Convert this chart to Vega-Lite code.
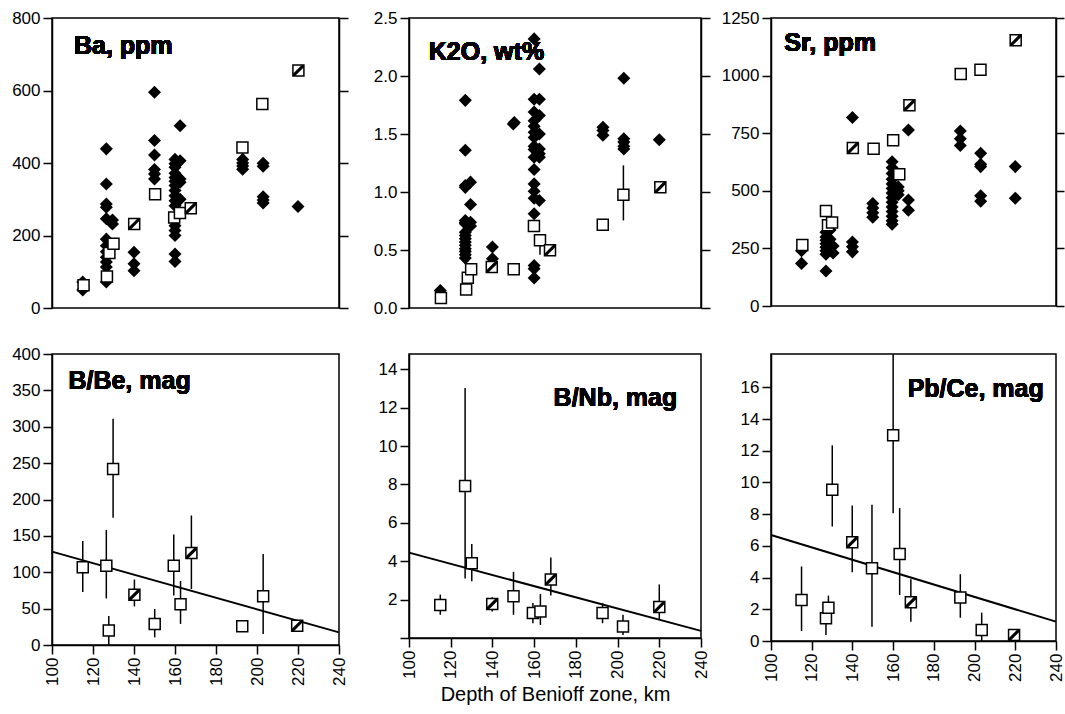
{
  "$schema": "https://vega.github.io/schema/vega-lite/v6.json",
  "padding": {"left": 10, "top": 8, "right": 0, "bottom": 4},
  "background": "white",
  "columns": 3,
  "spacing": {"row": 46, "column": 70},
  "bounds": "flush",
  "align": "each",
  "datasets": {
    "ba": [
      {"depth":115,"value":72,"kind":"d"},{"depth":115,"value":50,"kind":"d"},
      {"depth":126.5,"value":439,"kind":"d"},{"depth":126.5,"value":342,"kind":"d"},{"depth":126.5,"value":287,"kind":"d"},{"depth":126.5,"value":278,"kind":"d"},{"depth":126.5,"value":246,"kind":"d"},{"depth":126.5,"value":190,"kind":"d"},{"depth":126.5,"value":172,"kind":"d"},{"depth":126.5,"value":155,"kind":"d"},{"depth":126.5,"value":140,"kind":"d"},{"depth":126.5,"value":127,"kind":"d"},{"depth":126.5,"value":113,"kind":"d"},{"depth":126.5,"value":72,"kind":"d"},
      {"depth":129.5,"value":243,"kind":"d"},{"depth":129.5,"value":232,"kind":"d"},
      {"depth":140,"value":154,"kind":"d"},{"depth":140,"value":122,"kind":"d"},{"depth":140,"value":103,"kind":"d"},
      {"depth":150,"value":595,"kind":"d"},{"depth":150,"value":462,"kind":"d"},{"depth":150,"value":422,"kind":"d"},{"depth":150,"value":382,"kind":"d"},{"depth":150,"value":370,"kind":"d"},{"depth":150,"value":356,"kind":"d"},
      {"depth":160,"value":410,"kind":"d"},{"depth":160,"value":398,"kind":"d"},{"depth":160,"value":388,"kind":"d"},{"depth":160,"value":372,"kind":"d"},{"depth":160,"value":360,"kind":"d"},{"depth":160,"value":350,"kind":"d"},{"depth":160,"value":338,"kind":"d"},{"depth":160,"value":324,"kind":"d"},{"depth":160,"value":310,"kind":"d"},{"depth":160,"value":296,"kind":"d"},{"depth":160,"value":282,"kind":"d"},{"depth":160,"value":227,"kind":"d"},{"depth":160,"value":214,"kind":"d"},{"depth":160,"value":200,"kind":"d"},{"depth":160,"value":149,"kind":"d"},{"depth":160,"value":128,"kind":"d"},
      {"depth":162.5,"value":503,"kind":"d"},{"depth":162.5,"value":406,"kind":"d"},{"depth":162.5,"value":356,"kind":"d"},{"depth":162.5,"value":347,"kind":"d"},{"depth":162.5,"value":300,"kind":"d"},
      {"depth":193,"value":410,"kind":"d"},{"depth":193,"value":400,"kind":"d"},{"depth":193,"value":392,"kind":"d"},{"depth":193,"value":383,"kind":"d"},
      {"depth":203,"value":399,"kind":"d"},{"depth":203,"value":391,"kind":"d"},{"depth":203,"value":307,"kind":"d"},{"depth":203,"value":298,"kind":"d"},{"depth":203,"value":290,"kind":"d"},
      {"depth":220,"value":280,"kind":"d"},
      {"depth":115.4,"value":63,"kind":"o"},{"depth":126.8,"value":87,"kind":"o"},{"depth":128,"value":152,"kind":"o"},{"depth":130,"value":177,"kind":"o"},{"depth":150.3,"value":314,"kind":"o"},{"depth":159.6,"value":250,"kind":"o"},{"depth":162.4,"value":262,"kind":"o"},{"depth":192.9,"value":443,"kind":"o"},{"depth":202.6,"value":563,"kind":"o"},
      {"depth":140.1,"value":232,"kind":"s"},{"depth":167.7,"value":275,"kind":"s"},{"depth":220.2,"value":655,"kind":"s"}
    ],
    "k2o": [
      {"depth":115,"value":0.15,"kind":"d"},
      {"depth":127,"value":1.79,"kind":"d"},{"depth":127,"value":1.36,"kind":"d"},{"depth":127,"value":1.056,"kind":"d"},{"depth":127,"value":1.04,"kind":"d"},{"depth":127,"value":0.755,"kind":"d"},{"depth":127,"value":0.74,"kind":"d"},{"depth":127,"value":0.726,"kind":"d"},{"depth":127,"value":0.654,"kind":"d"},{"depth":127,"value":0.626,"kind":"d"},{"depth":127,"value":0.597,"kind":"d"},{"depth":127,"value":0.568,"kind":"d"},{"depth":127,"value":0.54,"kind":"d"},{"depth":127,"value":0.51,"kind":"d"},{"depth":127,"value":0.488,"kind":"d"},{"depth":127,"value":0.459,"kind":"d"},{"depth":127,"value":0.43,"kind":"d"},
      {"depth":129.5,"value":1.085,"kind":"d"},{"depth":129.5,"value":0.893,"kind":"d"},{"depth":129.5,"value":0.74,"kind":"d"},{"depth":129.5,"value":0.706,"kind":"d"},
      {"depth":140,"value":0.525,"kind":"d"},{"depth":140,"value":0.425,"kind":"d"},
      {"depth":150,"value":1.587,"kind":"d"},{"depth":150.5,"value":1.6,"kind":"d"},
      {"depth":160,"value":2.32,"kind":"d"},{"depth":160,"value":1.8,"kind":"d"},{"depth":160,"value":1.69,"kind":"d"},{"depth":160,"value":1.615,"kind":"d"},{"depth":160,"value":1.567,"kind":"d"},{"depth":160,"value":1.515,"kind":"d"},{"depth":160,"value":1.47,"kind":"d"},{"depth":160,"value":1.395,"kind":"d"},{"depth":160,"value":1.366,"kind":"d"},{"depth":160,"value":1.3,"kind":"d"},{"depth":160,"value":1.194,"kind":"d"},{"depth":160,"value":1.07,"kind":"d"},{"depth":160,"value":1.007,"kind":"d"},{"depth":160,"value":0.947,"kind":"d"},{"depth":160,"value":0.812,"kind":"d"},{"depth":160,"value":0.367,"kind":"d"},{"depth":160,"value":0.339,"kind":"d"},{"depth":160,"value":0.258,"kind":"d"},
      {"depth":162.5,"value":2.06,"kind":"d"},{"depth":162.5,"value":1.8,"kind":"d"},{"depth":162.5,"value":1.66,"kind":"d"},{"depth":162.5,"value":1.5,"kind":"d"},{"depth":162.5,"value":1.37,"kind":"d"},{"depth":162.5,"value":1.33,"kind":"d"},{"depth":162.5,"value":1.3,"kind":"d"},{"depth":162.5,"value":0.927,"kind":"d"},
      {"depth":193,"value":1.559,"kind":"d"},{"depth":193,"value":1.53,"kind":"d"},{"depth":193,"value":1.49,"kind":"d"},
      {"depth":203,"value":1.98,"kind":"d"},{"depth":203,"value":1.458,"kind":"d"},{"depth":203,"value":1.43,"kind":"d"},{"depth":203,"value":1.395,"kind":"d"},{"depth":203,"value":1.37,"kind":"d"},
      {"depth":220,"value":1.45,"kind":"d"},
      {"depth":115.3,"value":0.086,"kind":"o"},{"depth":127.4,"value":0.16,"kind":"o"},{"depth":128.2,"value":0.26,"kind":"o"},{"depth":129.8,"value":0.333,"kind":"o"},{"depth":150.2,"value":0.333,"kind":"o"},{"depth":159.9,"value":0.706,"kind":"o"},{"depth":162.8,"value":0.583,"kind":"o","lo":0.46,"hi":0.6},{"depth":192.9,"value":0.718,"kind":"o"},{"depth":202.8,"value":0.976,"kind":"o","lo":0.755,"hi":1.23},
      {"depth":139.7,"value":0.353,"kind":"s"},{"depth":167.6,"value":0.497,"kind":"s"},{"depth":220.5,"value":1.04,"kind":"s"}
    ],
    "sr": [
      {"depth":115,"value":240,"kind":"d"},{"depth":115,"value":185,"kind":"d"},
      {"depth":127,"value":320,"kind":"d"},{"depth":127,"value":300,"kind":"d"},{"depth":127,"value":285,"kind":"d"},{"depth":127,"value":270,"kind":"d"},{"depth":127,"value":255,"kind":"d"},{"depth":127,"value":240,"kind":"d"},{"depth":127,"value":225,"kind":"d"},{"depth":127,"value":152,"kind":"d"},
      {"depth":129,"value":330,"kind":"d"},{"depth":129,"value":290,"kind":"d"},{"depth":129,"value":265,"kind":"d"},
      {"depth":130.5,"value":260,"kind":"d"},{"depth":130.5,"value":230,"kind":"d"},
      {"depth":140,"value":818,"kind":"d"},{"depth":140,"value":278,"kind":"d"},{"depth":140,"value":257,"kind":"d"},{"depth":140,"value":235,"kind":"d"},
      {"depth":150,"value":445,"kind":"d"},{"depth":150,"value":425,"kind":"d"},{"depth":150,"value":405,"kind":"d"},{"depth":150,"value":385,"kind":"d"},
      {"depth":159.5,"value":626,"kind":"d"},{"depth":159.5,"value":600,"kind":"d"},{"depth":159.5,"value":575,"kind":"d"},{"depth":159.5,"value":550,"kind":"d"},{"depth":159.5,"value":530,"kind":"d"},{"depth":159.5,"value":510,"kind":"d"},{"depth":159.5,"value":490,"kind":"d"},{"depth":159.5,"value":470,"kind":"d"},{"depth":159.5,"value":450,"kind":"d"},{"depth":159.5,"value":430,"kind":"d"},{"depth":159.5,"value":410,"kind":"d"},{"depth":159.5,"value":390,"kind":"d"},{"depth":159.5,"value":370,"kind":"d"},{"depth":159.5,"value":355,"kind":"d"},
      {"depth":162.5,"value":517,"kind":"d"},{"depth":162.5,"value":500,"kind":"d"},{"depth":162.5,"value":483,"kind":"d"},
      {"depth":167.5,"value":764,"kind":"d"},{"depth":167.5,"value":460,"kind":"d"},{"depth":167.5,"value":416,"kind":"d"},
      {"depth":193,"value":760,"kind":"d"},{"depth":193,"value":726,"kind":"d"},{"depth":193,"value":697,"kind":"d"},
      {"depth":203,"value":663,"kind":"d"},{"depth":203,"value":615,"kind":"d"},{"depth":203,"value":605,"kind":"d"},{"depth":203,"value":478,"kind":"d"},{"depth":203,"value":455,"kind":"d"},
      {"depth":220,"value":605,"kind":"d"},{"depth":220,"value":468,"kind":"d"},
      {"depth":115.4,"value":265,"kind":"o"},{"depth":127,"value":412,"kind":"o"},{"depth":128,"value":350,"kind":"o"},{"depth":130,"value":362,"kind":"o"},{"depth":150.4,"value":683,"kind":"o"},{"depth":160,"value":719,"kind":"o"},{"depth":163,"value":572,"kind":"o"},{"depth":193.2,"value":1007,"kind":"o"},{"depth":202.9,"value":1025,"kind":"o"},
      {"depth":140.2,"value":686,"kind":"s"},{"depth":168,"value":871,"kind":"s"},{"depth":220.2,"value":1153,"kind":"s"}
    ],
    "bbe": [
      {"depth":115,"value":107,"kind":"o","lo":73,"hi":143},{"depth":126.5,"value":109,"kind":"o","lo":64,"hi":158},{"depth":127.7,"value":20,"kind":"o","lo":0,"hi":40},{"depth":129.8,"value":242,"kind":"o","lo":175,"hi":311},{"depth":150.1,"value":29,"kind":"o","lo":10.5,"hi":49.5},{"depth":159.4,"value":109,"kind":"o","lo":68,"hi":152},{"depth":162.7,"value":56,"kind":"o","lo":29,"hi":88},{"depth":192.8,"value":25.7,"kind":"o"},{"depth":203,"value":67,"kind":"o","lo":15,"hi":125},
      {"depth":140.2,"value":69,"kind":"s","lo":53,"hi":90},{"depth":168,"value":126.5,"kind":"s","lo":77,"hi":178},{"depth":219.6,"value":26.6,"kind":"s"}
    ],
    "bnb": [
      {"depth":115,"value":1.72,"kind":"o","lo":1.21,"hi":2.26},{"depth":126.9,"value":7.92,"kind":"o","lo":3.1,"hi":13.03},{"depth":130.1,"value":3.89,"kind":"o","lo":2.96,"hi":4.9},{"depth":150.1,"value":2.17,"kind":"o","lo":1.21,"hi":3.45},{"depth":159.4,"value":1.3,"kind":"o","lo":0.77,"hi":1.82},{"depth":163,"value":1.38,"kind":"o","lo":0.68,"hi":2.29},{"depth":192.8,"value":1.3,"kind":"o","lo":0.77,"hi":1.82},{"depth":202.6,"value":0.6,"kind":"o","lo":0.16,"hi":1.21},
      {"depth":139.9,"value":1.77,"kind":"s","lo":1.38,"hi":2.12},{"depth":168,"value":3.05,"kind":"s","lo":2.22,"hi":4.19},{"depth":220,"value":1.61,"kind":"s","lo":0.95,"hi":2.79}
    ],
    "pbce": [
      {"depth":115,"value":2.59,"kind":"o","lo":0.63,"hi":4.7},{"depth":127,"value":1.43,"kind":"o","lo":0.38,"hi":2.1},{"depth":128.2,"value":2.1,"kind":"o","lo":1.4,"hi":2.86},{"depth":130.1,"value":9.54,"kind":"o","lo":7.22,"hi":12.34},{"depth":149.6,"value":4.59,"kind":"o","lo":0.9,"hi":8.59},{"depth":160,"value":12.97,"kind":"o","lo":8.06,"hi":18.1},{"depth":163.2,"value":5.49,"kind":"o","lo":2.9,"hi":8.38},{"depth":193,"value":2.74,"kind":"o","lo":1.47,"hi":4.21},{"depth":203.5,"value":0.69,"kind":"o","lo":0,"hi":1.79},
      {"depth":139.9,"value":6.23,"kind":"s","lo":4.34,"hi":8.55},{"depth":168.7,"value":2.44,"kind":"s","lo":1.22,"hi":3.9},{"depth":219.4,"value":0.38,"kind":"s"}
    ]
  },
  "concat": [
    {
      "width": 287, "height": 290,
      "data": {"name": "ba"},
      "layer": [
        {"transform": [{"filter": "datum.kind == 'd'"}],
         "mark": {"type": "point", "shape": "diamond", "filled": true, "color": "black", "size": 170, "opacity": 1},
         "encoding": {
           "x": {"field": "depth", "type": "quantitative", "scale": {"domain": [100, 240], "nice": false}, "axis": {"values": [100,120,140,160,180,200,220,240], "labels": false, "title": null}},
           "y": {"field": "value", "type": "quantitative", "scale": {"domain": [0, 800], "nice": false}, "axis": {"values": [0,200,400,600,800], "title": null}}}},
        {"transform": [{"filter": "datum.kind != 'd'"}],
         "mark": {"type": "point", "shape": "square", "filled": true, "fill": "white", "stroke": "black", "strokeWidth": 1.5, "size": 121, "opacity": 1},
         "encoding": {
           "x": {"field": "depth", "type": "quantitative", "axis": null},
           "y": {"field": "value", "type": "quantitative", "axis": {"orient": "right", "labels": false, "values": [0,200,400,600,800], "title": null}}}},
        {"transform": [{"filter": "datum.kind == 's'"}],
         "mark": {"type": "point", "shape": "M-1,1L-1,0.6L0.6,-1L1,-1L1,-0.6L-0.6,1Z", "filled": true, "color": "black", "size": 121, "opacity": 1},
         "encoding": {
           "x": {"field": "depth", "type": "quantitative", "axis": null},
           "y": {"field": "value", "type": "quantitative", "axis": null}}},
        {"mark": {"type": "text", "text": "Ba, ppm", "fontSize": 25, "fontWeight": "bold", "align": "left", "baseline": "alphabetic", "color": "black"},
         "encoding": {
           "x": {"datum": 110.7, "type": "quantitative", "axis": null},
           "y": {"datum": 700, "type": "quantitative", "axis": null}}}
      ],
      "resolve": {"axis": {"y": "independent"}}
    },
    {
      "width": 292, "height": 290,
      "data": {"name": "k2o"},
      "layer": [
        {"transform": [{"filter": "datum.kind == 'd'"}],
         "mark": {"type": "point", "shape": "diamond", "filled": true, "color": "black", "size": 170, "opacity": 1},
         "encoding": {
           "x": {"field": "depth", "type": "quantitative", "scale": {"domain": [100, 240], "nice": false}, "axis": {"values": [100,120,140,160,180,200,220,240], "labels": false, "title": null}},
           "y": {"field": "value", "type": "quantitative", "scale": {"domain": [0, 2.5], "nice": false}, "axis": {"values": [0,0.5,1,1.5,2,2.5], "format": ".1f", "title": null}}}},
        {"transform": [{"filter": "isValid(datum.lo)"}],
         "mark": {"type": "rule", "color": "black", "strokeWidth": 1.5},
         "encoding": {
           "x": {"field": "depth", "type": "quantitative", "axis": null},
           "y": {"field": "lo", "type": "quantitative", "axis": null},
           "y2": {"field": "hi"}}},
        {"transform": [{"filter": "datum.kind != 'd'"}],
         "mark": {"type": "point", "shape": "square", "filled": true, "fill": "white", "stroke": "black", "strokeWidth": 1.5, "size": 121, "opacity": 1},
         "encoding": {
           "x": {"field": "depth", "type": "quantitative", "axis": null},
           "y": {"field": "value", "type": "quantitative", "axis": {"orient": "right", "labels": false, "values": [0,0.5,1,1.5,2,2.5], "title": null}}}},
        {"transform": [{"filter": "datum.kind == 's'"}],
         "mark": {"type": "point", "shape": "M-1,1L-1,0.6L0.6,-1L1,-1L1,-0.6L-0.6,1Z", "filled": true, "color": "black", "size": 121, "opacity": 1},
         "encoding": {
           "x": {"field": "depth", "type": "quantitative", "axis": null},
           "y": {"field": "value", "type": "quantitative", "axis": null}}},
        {"mark": {"type": "text", "text": "K2O, wt%", "fontSize": 25, "fontWeight": "bold", "align": "left", "baseline": "alphabetic", "color": "black"},
         "encoding": {
           "x": {"datum": 109.5, "type": "quantitative", "axis": null},
           "y": {"datum": 2.14, "type": "quantitative", "axis": null}}}
      ],
      "resolve": {"axis": {"y": "independent"}}
    },
    {
      "width": 285, "height": 288,
      "data": {"name": "sr"},
      "layer": [
        {"transform": [{"filter": "datum.kind == 'd'"}],
         "mark": {"type": "point", "shape": "diamond", "filled": true, "color": "black", "size": 170, "opacity": 1},
         "encoding": {
           "x": {"field": "depth", "type": "quantitative", "scale": {"domain": [100, 240], "nice": false}, "axis": {"values": [100,120,140,160,180,200,220,240], "labels": false, "title": null}},
           "y": {"field": "value", "type": "quantitative", "scale": {"domain": [0, 1250], "nice": false}, "axis": {"values": [0,250,500,750,1000,1250], "format": "d", "title": null}}}},
        {"transform": [{"filter": "datum.kind != 'd'"}],
         "mark": {"type": "point", "shape": "square", "filled": true, "fill": "white", "stroke": "black", "strokeWidth": 1.5, "size": 121, "opacity": 1},
         "encoding": {
           "x": {"field": "depth", "type": "quantitative", "axis": null},
           "y": {"field": "value", "type": "quantitative", "axis": {"orient": "right", "labels": false, "values": [0,250,500,750,1000,1250], "title": null, "tickSize": 8}}}},
        {"transform": [{"filter": "datum.kind == 's'"}],
         "mark": {"type": "point", "shape": "M-1,1L-1,0.6L0.6,-1L1,-1L1,-0.6L-0.6,1Z", "filled": true, "color": "black", "size": 121, "opacity": 1},
         "encoding": {
           "x": {"field": "depth", "type": "quantitative", "axis": null},
           "y": {"field": "value", "type": "quantitative", "axis": null}}},
        {"mark": {"type": "text", "text": "Sr, ppm", "fontSize": 25, "fontWeight": "bold", "align": "left", "baseline": "alphabetic", "color": "black"},
         "encoding": {
           "x": {"datum": 106.5, "type": "quantitative", "axis": null},
           "y": {"datum": 1108, "type": "quantitative", "axis": null}}}
      ],
      "resolve": {"axis": {"y": "independent"}}
    },
    {
      "width": 287, "height": 291,
      "data": {"name": "bbe"},
      "layer": [
        {"transform": [{"filter": "isValid(datum.lo)"}],
         "mark": {"type": "rule", "color": "black", "strokeWidth": 1.5},
         "encoding": {
           "x": {"field": "depth", "type": "quantitative", "scale": {"domain": [100, 240], "nice": false}, "axis": null},
           "y": {"field": "lo", "type": "quantitative", "scale": {"domain": [0, 400], "nice": false}, "axis": null},
           "y2": {"field": "hi"}}},
        {"data": {"values": [{"depth": 100, "value": 128.3}, {"depth": 240, "value": 17.4}]},
         "mark": {"type": "line", "color": "black", "strokeWidth": 2},
         "encoding": {
           "x": {"field": "depth", "type": "quantitative", "axis": null},
           "y": {"field": "value", "type": "quantitative", "axis": null}}},
        {"mark": {"type": "point", "shape": "square", "filled": true, "fill": "white", "stroke": "black", "strokeWidth": 1.5, "size": 121, "opacity": 1},
         "encoding": {
           "x": {"field": "depth", "type": "quantitative", "axis": {"values": [100,120,140,160,180,200,220,240], "labelAngle": 270, "title": null}},
           "y": {"field": "value", "type": "quantitative", "axis": {"values": [0,50,100,150,200,250,300,350,400], "title": null}}}},
        {"transform": [{"filter": "datum.kind == 's'"}],
         "mark": {"type": "point", "shape": "M-1,1L-1,0.6L0.6,-1L1,-1L1,-0.6L-0.6,1Z", "filled": true, "color": "black", "size": 121, "opacity": 1},
         "encoding": {
           "x": {"field": "depth", "type": "quantitative", "axis": null},
           "y": {"field": "value", "type": "quantitative", "axis": null}}},
        {"mark": {"type": "text", "text": "B/Be, mag", "fontSize": 25, "fontWeight": "bold", "align": "left", "baseline": "alphabetic", "color": "black"},
         "encoding": {
           "x": {"datum": 108, "type": "quantitative", "axis": null},
           "y": {"datum": 352, "type": "quantitative", "axis": null}}}
      ],
      "resolve": {"axis": {"y": "independent", "x": "independent"}}
    },
    {
      "width": 292, "height": 284,
      "data": {"name": "bnb"},
      "layer": [
        {"transform": [{"filter": "isValid(datum.lo)"}],
         "mark": {"type": "rule", "color": "black", "strokeWidth": 1.5},
         "encoding": {
           "x": {"field": "depth", "type": "quantitative", "scale": {"domain": [100, 240], "nice": false}, "axis": null},
           "y": {"field": "lo", "type": "quantitative", "scale": {"domain": [0, 14.8], "nice": false}, "axis": null},
           "y2": {"field": "hi"}}},
        {"data": {"values": [{"depth": 100, "value": 4.45}, {"depth": 240, "value": 0.37}]},
         "mark": {"type": "line", "color": "black", "strokeWidth": 2},
         "encoding": {
           "x": {"field": "depth", "type": "quantitative", "axis": null},
           "y": {"field": "value", "type": "quantitative", "axis": null}}},
        {"mark": {"type": "point", "shape": "square", "filled": true, "fill": "white", "stroke": "black", "strokeWidth": 1.5, "size": 121, "opacity": 1},
         "encoding": {
           "x": {"field": "depth", "type": "quantitative", "axis": {"values": [100,120,140,160,180,200,220,240], "labelAngle": 270, "title": "Depth of Benioff zone, km"}},
           "y": {"field": "value", "type": "quantitative", "axis": {"values": [0,2,4,6,8,10,12,14], "labelExpr": "datum.value == 0 ? '' : datum.label", "title": null}}}},
        {"transform": [{"filter": "datum.kind == 's'"}],
         "mark": {"type": "point", "shape": "M-1,1L-1,0.6L0.6,-1L1,-1L1,-0.6L-0.6,1Z", "filled": true, "color": "black", "size": 121, "opacity": 1},
         "encoding": {
           "x": {"field": "depth", "type": "quantitative", "axis": null},
           "y": {"field": "value", "type": "quantitative", "axis": null}}},
        {"mark": {"type": "text", "text": "B/Nb, mag", "fontSize": 25, "fontWeight": "bold", "align": "right", "baseline": "alphabetic", "color": "black"},
         "encoding": {
           "x": {"datum": 228.6, "type": "quantitative", "axis": null},
           "y": {"datum": 12.07, "type": "quantitative", "axis": null}}}
      ],
      "resolve": {"axis": {"y": "independent", "x": "independent"}}
    },
    {
      "width": 285, "height": 287,
      "data": {"name": "pbce"},
      "layer": [
        {"transform": [{"filter": "isValid(datum.lo)"}],
         "mark": {"type": "rule", "color": "black", "strokeWidth": 1.5},
         "encoding": {
           "x": {"field": "depth", "type": "quantitative", "scale": {"domain": [100, 240], "nice": false}, "axis": null},
           "y": {"field": "lo", "type": "quantitative", "scale": {"domain": [0, 18.1], "nice": false}, "axis": null},
           "y2": {"field": "hi"}}},
        {"data": {"values": [{"depth": 100, "value": 6.69}, {"depth": 240, "value": 1.22}]},
         "mark": {"type": "line", "color": "black", "strokeWidth": 2},
         "encoding": {
           "x": {"field": "depth", "type": "quantitative", "axis": null},
           "y": {"field": "value", "type": "quantitative", "axis": null}}},
        {"mark": {"type": "point", "shape": "square", "filled": true, "fill": "white", "stroke": "black", "strokeWidth": 1.5, "size": 121, "opacity": 1},
         "encoding": {
           "x": {"field": "depth", "type": "quantitative", "axis": {"values": [100,120,140,160,180,200,220,240], "labelAngle": 270, "title": null}},
           "y": {"field": "value", "type": "quantitative", "axis": {"values": [0,2,4,6,8,10,12,14,16], "title": null}}}},
        {"transform": [{"filter": "datum.kind == 's'"}],
         "mark": {"type": "point", "shape": "M-1,1L-1,0.6L0.6,-1L1,-1L1,-0.6L-0.6,1Z", "filled": true, "color": "black", "size": 121, "opacity": 1},
         "encoding": {
           "x": {"field": "depth", "type": "quantitative", "axis": null},
           "y": {"field": "value", "type": "quantitative", "axis": null}}},
        {"mark": {"type": "text", "text": "Pb/Ce, mag", "fontSize": 25, "fontWeight": "bold", "align": "right", "baseline": "alphabetic", "color": "black"},
         "encoding": {
           "x": {"datum": 234, "type": "quantitative", "axis": null},
           "y": {"datum": 15.37, "type": "quantitative", "axis": null}}}
      ],
      "resolve": {"axis": {"y": "independent", "x": "independent"}}
    }
  ],
  "config": {
    "font": "Liberation Sans",
    "view": {"stroke": "black", "strokeWidth": 1.5},
    "axis": {
      "domainColor": "black", "domainWidth": 1.5,
      "tickColor": "black", "tickWidth": 1.5, "tickSize": 9,
      "labelFont": "Liberation Sans", "labelFontSize": 17, "labelColor": "black", "labelPadding": 3, "labelFlush": false,
      "grid": false,
      "titleFont": "Liberation Sans", "titleFontSize": 20, "titleFontWeight": "normal", "titleColor": "black", "titlePadding": 6
    },
    "text": {"font": "Liberation Sans"}
  }
}
